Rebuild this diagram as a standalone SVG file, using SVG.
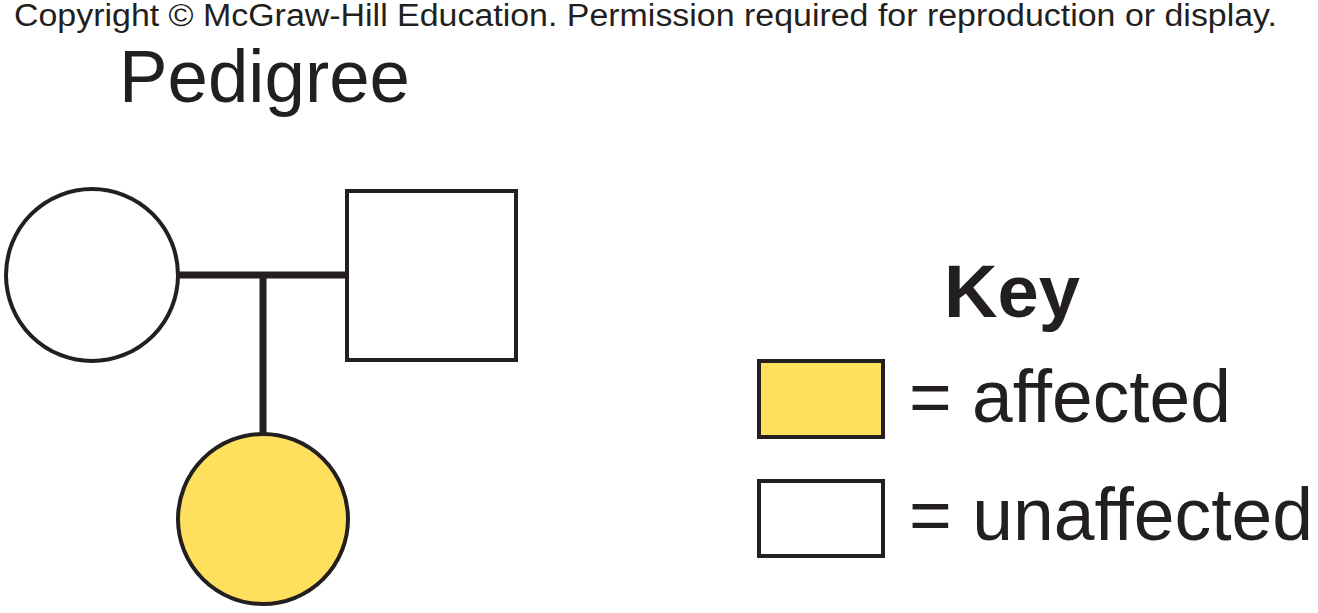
<svg xmlns="http://www.w3.org/2000/svg" width="1318" height="613" viewBox="0 0 1318 613">
<style>
.t{font-family:"Liberation Sans",Arial,sans-serif;fill:#231f20}
.s{stroke:#231f20;stroke-width:4}
.line{stroke:#231f20;stroke-width:7;fill:none}
</style>
<rect width="1318" height="613" fill="#fff"/>
<text class="t" x="14" y="26" font-size="31" textLength="1263" lengthAdjust="spacingAndGlyphs">Copyright © McGraw-Hill Education. Permission required for reproduction or display.</text>
<text class="t" x="119" y="102" font-size="74" textLength="291" lengthAdjust="spacingAndGlyphs">Pedigree</text>
<g id="connectors">
<line class="line" x1="178" y1="275" x2="347" y2="275"/>
<line class="line" x1="263" y1="275" x2="263" y2="435"/>
</g>
<g id="mother"><circle class="s" cx="92" cy="275" r="86" fill="#fff"/></g>
<g id="father"><rect class="s" x="347" y="191" width="169" height="169" fill="#fff"/></g>
<g id="daughter"><circle class="s" cx="263" cy="519" r="85" fill="#ffe05e"/></g>
<g id="key">
<text class="t" x="944" y="317" font-size="74" font-weight="bold" textLength="136" lengthAdjust="spacingAndGlyphs">Key</text>
<rect class="s" x="759" y="361" width="124" height="76" fill="#ffe05e"/>
<text class="t" x="909" y="422" font-size="74" textLength="322" lengthAdjust="spacingAndGlyphs">= affected</text>
<rect class="s" x="759" y="481" width="124" height="75" fill="#fff"/>
<text class="t" x="909" y="540" font-size="74" textLength="404" lengthAdjust="spacingAndGlyphs">= unaffected</text>
</g>
</svg>
